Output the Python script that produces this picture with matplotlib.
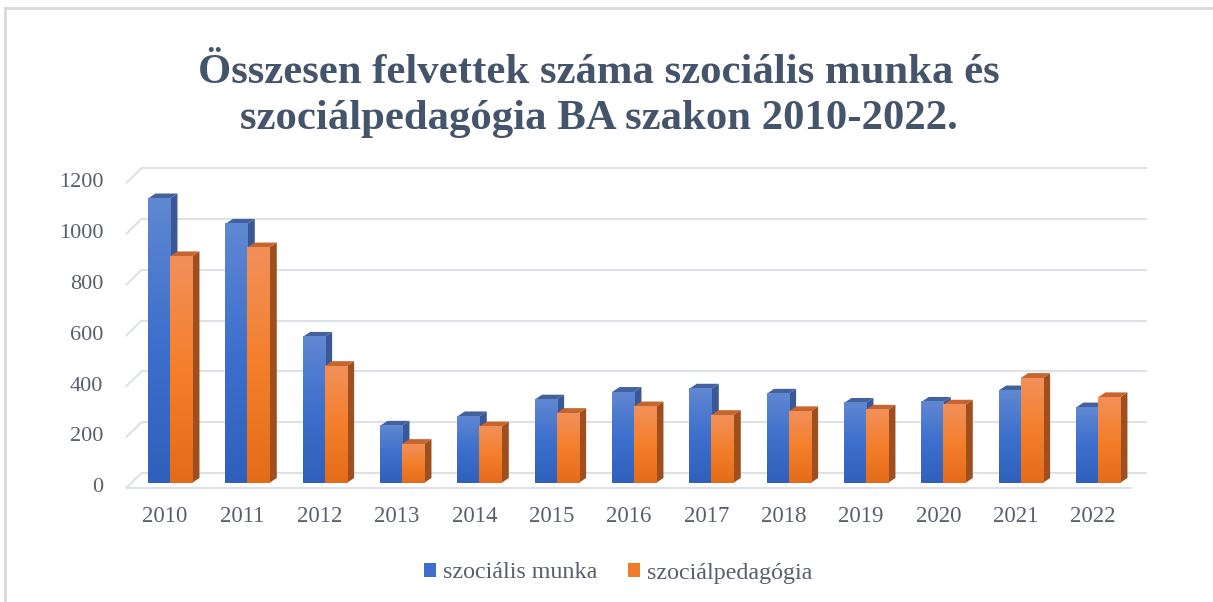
import matplotlib
matplotlib.use('Agg')
import matplotlib.pyplot as plt
import numpy as np
from matplotlib.transforms import ScaledTranslation, IdentityTransform
from matplotlib.patches import Polygon, Patch
from matplotlib.lines import Line2D
from matplotlib.colors import LinearSegmentedColormap

# ---------------- data ----------------
years = ['2010', '2011', '2012', '2013', '2014', '2015', '2016',
         '2017', '2018', '2019', '2020', '2021', '2022']
munka = [1120, 1020, 575, 225, 262, 328, 358, 371, 351, 315, 319, 364, 297]
pedag = [892, 927, 460, 153, 222, 275, 301, 267, 282, 288, 308, 413, 337]
series_names = ['szociális munka', 'szociálpedagógia']
yticks = [0, 200, 400, 600, 800, 1000, 1200]
title_lines = ['Összesen felvettek száma szociális munka és',
               'szociálpedagógia BA szakon 2010-2022.']

# ---------------- style ----------------
W, H = 1213, 602
DPI = 100
SERIF = ['Liberation Serif', 'DejaVu Serif']
title_col = '#44546A'
tick_col = '#595F6B'
grid_col = '#DDE1E8'

blue_cm = LinearSegmentedColormap.from_list('b', ['#2F60BC', '#3D6FCC', '#6088D2'])
orange_cm = LinearSegmentedColormap.from_list('o', ['#E46B19', '#F47F2B', '#F2905A'])
blue_side, blue_top = '#3A5895', '#43619F'
orange_side, orange_top = '#9F4F1E', '#C6652E'

fig = plt.figure(figsize=(W / DPI, H / DPI), dpi=DPI)
ax = fig.add_axes([131.3 / W, (H - 483) / H, 1005.3 / W, 304.8 / H])
ax.set_axis_off()
ax.set_autoscale_on(False)
ax.set_xlim(-0.5, len(years) - 0.5)
ax.set_ylim(0, 1200)


def offset(dx_px, dy_px):
    return ax.transData + ScaledTranslation(dx_px / DPI, dy_px / DPI, fig.dpi_scale_trans)


front = offset(-4.8, -4.7)
back = offset(10.2, 10.0)
x_left, x_right = ax.get_xlim()

# back wall gridlines + side-wall diagonals
for v in yticks:
    ax.plot([x_left, x_right], [v, v], transform=back, color=grid_col, lw=1.5,
            clip_on=False, zorder=1, solid_capstyle='butt')
    p1 = front.transform((x_left, v))
    p2 = back.transform((x_left, v))
    ax.add_line(Line2D([p1[0], p2[0]], [p1[1], p2[1]], transform=IdentityTransform(),
                       color=grid_col, lw=1.5, zorder=1, clip_on=False))
# front floor edge
ax.plot([x_left, x_right], [0, 0], transform=front, color=grid_col, lw=1.5,
        clip_on=False, zorder=1, solid_capstyle='butt')

# ---------------- bars ----------------
bw = 0.2845
DX, DY = 7.5, 5.0  # bar depth in pixels
grad = np.linspace(0, 1, 256).reshape(-1, 1)


def draw_bar(x0, x1, h, cmap, side_c, top_c, z):
    D = ax.transData.transform
    br = D((x1, 0))
    tl, tr = D((x0, h)), D((x1, h))
    side = [br, tr, (tr[0] + DX, tr[1] + DY), (br[0] + DX, br[1] + DY)]
    top = [tl, tr, (tr[0] + DX, tr[1] + DY), (tl[0] + DX, tl[1] + DY)]
    ax.add_patch(Polygon(side, closed=True, transform=IdentityTransform(),
                         facecolor=side_c, edgecolor='none', zorder=z, clip_on=False))
    ax.add_patch(Polygon(top, closed=True, transform=IdentityTransform(),
                         facecolor=top_c, edgecolor='none', zorder=z, clip_on=False))
    ax.imshow(grad, extent=(x0, x1, 0, h), origin='lower', cmap=cmap, aspect='auto',
              interpolation='bilinear', zorder=z + 0.5, clip_on=False)


for i in range(len(years)):
    draw_bar(i - bw, i, munka[i], blue_cm, blue_side, blue_top, 3 + i * 2)
    draw_bar(i, i + bw, pedag[i], orange_cm, orange_side, orange_top, 4 + i * 2)

ax.set_xlim(x_left, x_right)
ax.set_ylim(0, 1200)

# ---------------- tick labels ----------------
for v in yticks:
    ax.text(x_left, v, str(v), transform=offset(-4.8 - 23, -4.7), ha='right', va='center',
            fontsize=16, family=SERIF, color=tick_col, clip_on=False)
for i, y in enumerate(years):
    ax.text(i, 0, y, transform=offset(-4.8, -4.7 - 29), ha='center', va='center',
            fontsize=16.5, family=SERIF, color=tick_col, clip_on=False)

# ---------------- title ----------------
fig.text(599 / W, 1 - 83 / H, title_lines[0], ha='center', va='baseline', fontsize=30.8,
         fontweight='bold', family=SERIF, color=title_col)
fig.text(599 / W, 1 - 129 / H, title_lines[1], ha='center', va='baseline', fontsize=30.8,
         fontweight='bold', family=SERIF, color=title_col)

# ---------------- legend ----------------
handles = [Patch(facecolor='#3E6FCB'), Patch(facecolor='#F07B2B')]
fig.legend(handles, series_names, loc='center', bbox_to_anchor=(618 / W, 1 - 573 / H),
           ncol=2, frameon=False, handlelength=0.5, handleheight=0.5, handletextpad=0.3,
           columnspacing=1.25, prop={'family': SERIF, 'size': 17.3}, labelcolor=tick_col)

# ---------------- outer border (top & left visible) ----------------
fig.add_artist(Line2D([5 / W, 1.0], [1 - 8 / H, 1 - 8 / H], transform=fig.transFigure,
                      color='#D9D9D9', lw=2))
fig.add_artist(Line2D([5 / W, 5 / W], [1 - 8 / H, 0], transform=fig.transFigure,
                      color='#D9D9D9', lw=2))

fig.savefig('out.png', dpi=DPI)
